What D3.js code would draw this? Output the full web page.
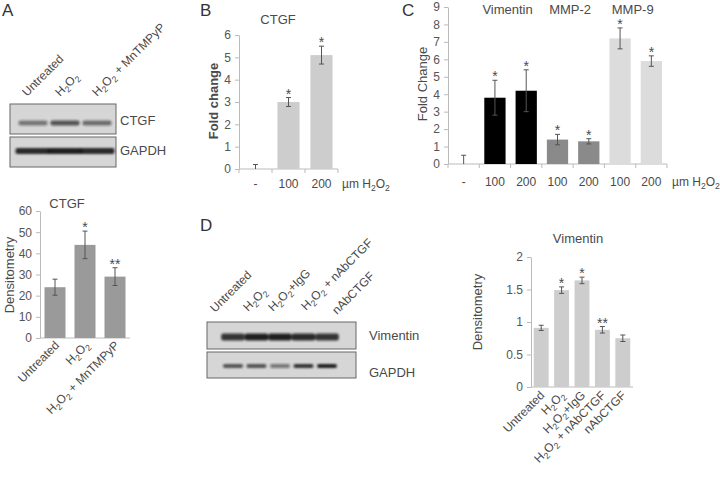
<!DOCTYPE html>
<html>
<head>
<meta charset="utf-8">
<script src="https://cdn.jsdelivr.net/npm/d3@7"></script>
<style>
  body { margin: 0; background: #fff; }
  svg { font-family: "Liberation Sans", Arial, sans-serif; }
</style>
</head>
<body>
<svg id="fig" width="720" height="490"></svg>
<script>
// ---- panel A: CTGF densitometry
const aCats = ["Untreated", "H_2O_2", "H_2O_2 + MnTMPyP"];
const aVals = [24, 44, 29];
const aErr = [3.8, 6.5, 4.2];
const aStars = ["", "*", "**"];
const aTicks = [0, 10, 20, 30, 40, 50, 60];

// ---- panel B: CTGF fold change
const bCats = ["-", "100", "200"];
const bVals = [0, 3.0, 5.1];
const bErr = [0.2, 0.2, 0.4];
const bStars = ["", "*", "*"];
const bTicks = [0, 1, 2, 3, 4, 5, 6];

// ---- panel C: Vimentin / MMP-2 / MMP-9 fold change
const cCats = ["-", "100", "200", "100", "200", "100", "200"];
const cGroupOf = [null, 0, 0, 1, 1, 2, 2];
const cGroups = ["Vimentin", "MMP-2", "MMP-9"];
const cVals = [0, 3.8, 4.2, 1.4, 1.3, 7.2, 5.9];
const cErr = [0.5, 1.0, 1.2, 0.3, 0.15, 0.6, 0.3];
const cStars = ["", "*", "*", "*", "*", "*", "*"];
const cTicks = [0, 1, 2, 3, 4, 5, 6, 7, 8, 9];

// ---- panel D: Vimentin densitometry
const dCats = ["Untreated", "H_2O_2", "H_2O_2+IgG", "H_2O_2 + nAbCTGF", "nAbCTGF"];
const dVals = [0.91, 1.49, 1.64, 0.88, 0.75];
const dErr = [0.04, 0.05, 0.05, 0.05, 0.05];
const dStars = ["", "*", "*", "**", ""];
const dTicks = [0, 0.5, 1, 1.5, 2];

// ---- blot band intensities (0..1)
const aCtgfBands = [0.5, 0.7, 0.55];
const aGapdhBands = [0.9, 0.95, 0.9];
const dVimBands = [0.85, 0.95, 0.95, 0.9, 0.85];
const dGapdhBands = [0.7, 0.7, 0.5, 0.85, 0.95];

const svg = d3.select("#fig");
const txt = "#4a4a4a";
const axisCol = "#bbb";

const defs = svg.append("defs");
defs.append("filter").attr("id", "blur").attr("x", "-20%").attr("y", "-100%")
  .attr("width", "140%").attr("height", "300%")
  .append("feGaussianBlur").attr("stdDeviation", 1.2);

// text with _2 style subscripts
function rich(t, s) {
  const parts = s.split(/_(\d)/);
  parts.forEach((p, i) => {
    if (p === "") return;
    if (i % 2 === 1) {
      t.append("tspan").attr("dy", 3).attr("font-size", "0.72em").text(p);
    } else {
      t.append("tspan").attr("dy", i > 0 ? -3 : 0).text(p);
    }
  });
  return t;
}

function label(x, y, s, opts = {}) {
  const t = svg.append("text")
    .attr("x", x).attr("y", y)
    .attr("fill", opts.fill || txt)
    .attr("font-size", opts.size || 12)
    .attr("text-anchor", opts.anchor || "start");
  if (opts.rotate) t.attr("transform", `rotate(${opts.rotate},${x},${y})`);
  if (opts.weight) t.attr("font-weight", opts.weight);
  return rich(t, s);
}

function barChart(o) {
  const y = d3.scaleLinear().domain([0, d3.max(o.ticks)]).range([o.y0, o.y1]);
  const x = d3.scaleBand().domain(d3.range(o.vals.length))
    .range([o.x0, o.x1]).paddingInner(o.pad).paddingOuter(o.pad / 2);
  const g = svg.append("g");
  const rows = o.vals.map((v, i) => ({ i, v, e: o.err[i], star: o.stars[i] }));

  const ya = g.append("g").attr("transform", `translate(${o.x0},0)`)
    .call(d3.axisLeft(y).tickValues(o.ticks).tickFormat(d3.format("~g"))
      .tickSize(4).tickSizeOuter(0).tickPadding(4));
  ya.selectAll("path,line").attr("stroke", axisCol);
  ya.selectAll("text").attr("fill", "#555").attr("font-size", 12)
    .attr("font-family", "Liberation Sans, Arial, sans-serif");

  g.append("line").attr("x1", o.x0).attr("x2", o.x1)
    .attr("y1", o.y0).attr("y2", o.y0).attr("stroke", axisCol);

  if (o.sepTicks) {
    const seps = d3.range(o.vals.length + 1).map(i => o.x0 + i * (o.x1 - o.x0) / o.vals.length);
    g.selectAll(".sep").data(seps).join("line")
      .attr("x1", d => d).attr("x2", d => d)
      .attr("y1", o.y0).attr("y2", o.y0 + 4).attr("stroke", axisCol);
  }

  g.selectAll(".bar").data(rows).join("rect")
    .attr("x", d => x(d.i)).attr("width", x.bandwidth())
    .attr("y", d => y(d.v)).attr("height", d => o.y0 - y(d.v))
    .attr("fill", d => o.color(d.i));

  const cx = i => x(i) + x.bandwidth() / 2;
  const eb = g.selectAll(".eb").data(rows).join("g").attr("stroke", "#555");
  eb.append("line").attr("x1", d => cx(d.i)).attr("x2", d => cx(d.i))
    .attr("y1", d => y(Math.max(0, d.v - d.e))).attr("y2", d => y(d.v + d.e));
  eb.append("line").attr("x1", d => cx(d.i) - 2.5).attr("x2", d => cx(d.i) + 2.5)
    .attr("y1", d => y(d.v + d.e)).attr("y2", d => y(d.v + d.e));
  eb.filter(d => d.v > 0).append("line")
    .attr("x1", d => cx(d.i) - 2.5).attr("x2", d => cx(d.i) + 2.5)
    .attr("y1", d => y(d.v - d.e)).attr("y2", d => y(d.v - d.e));

  g.selectAll(".star").data(rows).join("text")
    .attr("x", d => cx(d.i)).attr("y", d => y(d.v + d.e) + 1)
    .attr("text-anchor", "middle").attr("font-size", 14).attr("fill", txt)
    .text(d => d.star);

  return { x, y, cx };
}

// blot box with blurred bands; bandY is the band centre line
function blot(x0, y0, w, h, lanes, bands, bw, bh, bandY) {
  svg.append("rect").attr("x", x0).attr("y", y0).attr("width", w).attr("height", h)
    .attr("fill", "#d6d6d6").attr("stroke", "#666");
  svg.append("g").attr("filter", "url(#blur)")
    .selectAll("rect").data(bands).join("rect")
    .attr("x", (d, i) => lanes(i) - bw / 2).attr("width", bw)
    .attr("y", bandY - bh / 2).attr("height", bh).attr("rx", 2)
    .attr("fill", d => `rgba(25,25,25,${d})`);
}

// ===== Panel A
label(2, 16, "A", { size: 17, fill: "#333" });
const aLanes = d3.scalePoint().domain(d3.range(3)).range([33, 97]);
blot(10, 104, 106, 30, aLanes, aCtgfBands, 29, 5, 123);
blot(10, 137, 106, 30, aLanes, aGapdhBands, 35, 6, 151);
label(120, 125, "CTGF", { size: 13 });
label(120, 155, "GAPDH", { size: 13 });
[[27, 97], [60, 97], [97, 97]].forEach((p, i) =>
  label(p[0], p[1], aCats[i], { rotate: -45, size: 12 }));

const A = barChart({
  vals: aVals, err: aErr, stars: aStars, ticks: aTicks,
  x0: 40, x1: 130, y0: 338, y1: 211, pad: 0.3, color: () => "#9a9a9a"
});
label(67, 208, "CTGF", { anchor: "middle", size: 13 });
label(14, 275, "Densitometry", { anchor: "middle", rotate: -90, size: 13 });
aCats.forEach((c, i) => label(A.cx(i) + 5, 346, c, { anchor: "end", rotate: -45, size: 12 }));

// ===== Panel B
label(200, 16, "B", { size: 17, fill: "#333" });
const B = barChart({
  vals: bVals, err: bErr, stars: bStars, ticks: bTicks,
  x0: 239, x1: 338, y0: 169, y1: 35, pad: 0.33, color: () => "#cdcdcd", sepTicks: true
});
label(278, 24, "CTGF", { anchor: "middle", size: 13 });
label(218, 101, "Fold change", { anchor: "middle", rotate: -90, size: 13, weight: "bold" });
bCats.forEach((c, i) => label(B.cx(i), 188, c, { anchor: "middle", size: 12 }));
label(342, 188, "\u00b5m H_2O_2", { size: 12 });

// ===== Panel C
label(402, 16, "C", { size: 17, fill: "#333" });
const cColors = ["#000000", "#8a8a8a", "#dcdcdc"];
const C = barChart({
  vals: cVals, err: cErr, stars: cStars, ticks: cTicks,
  x0: 448, x1: 667, y0: 164, y1: 7, pad: 0.32,
  color: i => cGroupOf[i] === null ? "#ccc" : cColors[cGroupOf[i]], sepTicks: true
});
cGroups.forEach((gname, k) => {
  const idx = cGroupOf.map((g, i) => g === k ? i : -1).filter(i => i >= 0);
  const mx = d3.mean(idx, i => C.cx(i));
  label(mx - 3, 14, gname, { anchor: "middle", size: 13 });
});
label(427, 84, "Fold Change", { anchor: "middle", rotate: -90, size: 13 });
cCats.forEach((c, i) => label(C.cx(i), 186, c, { anchor: "middle", size: 12 }));
label(672, 186, "\u00b5m H_2O_2", { size: 12 });

// ===== Panel D
label(200, 231, "D", { size: 17, fill: "#333" });
const dLanes = d3.scalePoint().domain(d3.range(5)).range([233, 327]);
blot(207, 322, 149, 27, dLanes, dVimBands, 23.5, 7, 337);
blot(207, 352, 149, 26, dLanes, dGapdhBands, 20, 4, 366);
label(369, 340, "Vimentin", { size: 13 });
label(369, 377, "GAPDH", { size: 13 });
[[215, 313], [248, 312], [273, 312], [306, 311], [337, 315]].forEach((p, i) =>
  label(p[0], p[1], dCats[i], { rotate: -45, size: 12 }));

const D = barChart({
  vals: dVals, err: dErr, stars: dStars, ticks: dTicks,
  x0: 531, x1: 633, y0: 387, y1: 257, pad: 0.27, color: () => "#cdcdcd"
});
label(578, 243, "Vimentin", { anchor: "middle", size: 13 });
label(482, 312, "Densitometry", { anchor: "middle", rotate: -90, size: 13 });
dCats.forEach((c, i) => label(D.cx(i) + 4, 396, c, { anchor: "end", rotate: -45, size: 12 }));
</script>
</body>
</html>
